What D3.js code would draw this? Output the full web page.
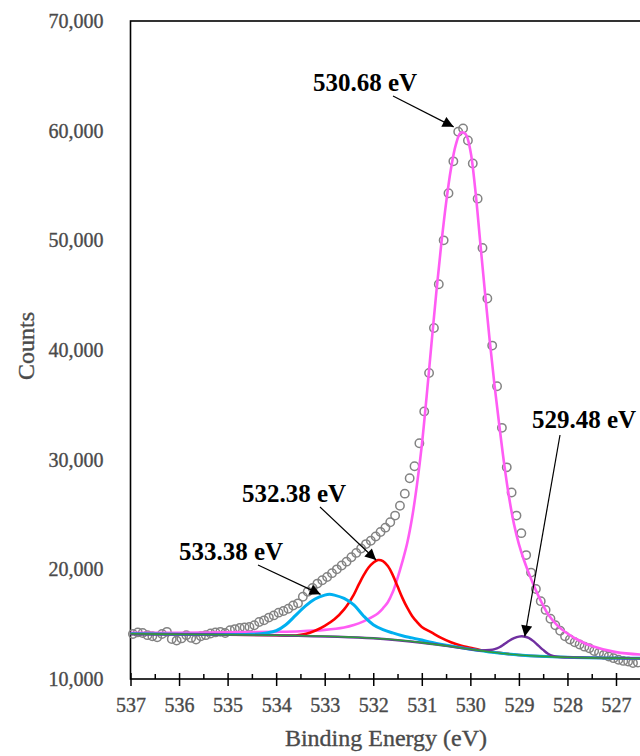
<!DOCTYPE html>
<html>
<head>
<meta charset="utf-8">
<script src="https://cdn.jsdelivr.net/npm/d3@7"></script>
<style>
  html, body { margin: 0; padding: 0; background: #fff; }
  svg { display: block; }
</style>
</head>
<body>
<div id="chart"></div>
<script>
// O 1s spectrum: measured counts (open circles), fitted components and background.

// Measured points [binding energy (eV), counts]
const measured = [
  [536.95,14100],[536.85,14250],[536.75,14200],[536.65,14000],[536.55,13900],[536.45,13800],[536.35,14100],[536.25,14300],[536.15,13650],[536.05,13500],
  [535.95,13700],[535.85,14000],[535.75,13750],[535.65,13600],[535.55,13900],[535.45,14000],[535.35,14150],[535.25,14250],[535.15,14300],[535.05,14200],
  [534.95,14450],[534.85,14550],[534.75,14650],[534.65,14700],[534.55,14750],[534.45,14900],[534.35,15200],[534.25,15350],[534.15,15600],[534.05,15800],
  [533.95,16050],[533.85,16200],[533.75,16400],[533.65,16700],[533.55,16900],[533.45,17500],[533.35,17950],[533.25,18300],[533.15,18700],[533.05,19000],
  [532.95,19300],[532.85,19650],[532.75,20000],[532.65,20350],[532.55,20700],[532.45,21100],[532.35,21500],[532.25,21900],[532.15,22300],[532.05,22600],
  [531.95,23000],[531.85,23400],[531.75,23800],[531.65,24300],[531.55,24900],[531.45,25800],[531.35,26900],[531.25,28300],[531.15,29400],[531.05,31500],
  [530.95,34400],[530.85,37900],[530.75,42000],[530.65,46000],[530.55,50000],[530.45,54300],[530.35,57200],[530.25,59900],[530.15,60200],[530.05,59100],
  [529.95,57000],[529.85,53800],[529.75,49300],[529.65,44700],[529.55,40400],[529.45,36700],[529.35,32900],[529.25,29300],[529.15,27000],[529.05,24900],
  [528.95,23300],[528.85,21300],[528.75,19700],[528.65,18200],[528.55,17100],[528.45,16300],[528.35,15500],[528.25,14900],[528.15,14400],[528.05,13900],
  [527.95,13600],[527.85,13350],[527.75,13150],[527.65,12950],[527.55,12800],[527.45,12550],[527.35,12400],[527.25,12200],[527.15,12050],[527.05,11900],
  [526.95,11750],[526.85,11650],[526.75,11600],[526.65,11450],[526.55,11500]
];

// Fitted components (each drawn on top of the background)
const peakMain = [
  [537.0,14220],[536.0,14220],[535.0,14260],[534.0,14300],[533.5,14350],[533.0,14480],[532.6,14700],[532.4,14920],[532.2,15250],[532.0,15700],
  [531.9,16000],[531.8,16450],[531.7,17000],[531.6,17900],[531.5,19200],[531.4,20700],[531.3,22400],[531.2,24700],[531.1,27700],[531.0,31300],
  [530.9,35800],[530.8,40600],[530.7,45300],[530.6,49600],[530.5,53400],[530.4,56500],[530.3,58700],[530.2,59800],[530.1,59700],[530.0,58200],
  [529.9,54700],[529.8,50000],[529.7,45300],[529.6,40800],[529.5,36700],[529.4,33000],[529.3,29500],[529.2,26500],[529.1,24100],[529.0,22300],
  [528.9,20900],[528.8,19700],[528.7,18600],[528.6,17600],[528.5,16700],[528.4,15900],[528.2,14850],[528.0,14150],[527.8,13600],[527.5,13000],
  [527.0,12450],[526.4,12200]
];

const peakHydroxyl = [
  [537.0,14110],[535.0,14040],[534.0,13990],[533.6,13970],[533.4,14100],[533.2,14400],[533.0,14850],[532.8,15450],[532.6,16350],[532.4,17700],
  [532.3,18600],[532.2,19450],[532.1,20150],[532.0,20600],[531.9,20850],[531.8,20750],[531.7,20300],[531.6,19500],[531.5,18450],[531.4,17400],
  [531.3,16500],[531.2,15750],[531.1,15200],[531.0,14750],[530.8,14250],[530.6,13750],[530.4,13350],[530.2,13050],[530.0,12850],[529.8,12650],
  [529.6,12520],[529.4,12380],[529.0,12190],[528.0,11980],[526.4,11880]
];

const peakWater = [
  [537.0,14120],[535.0,14060],[534.5,14080],[534.2,14200],[534.0,14400],[533.8,14950],[533.6,15800],[533.4,16650],[533.2,17300],[533.0,17650],
  [532.9,17720],[532.8,17650],[532.6,17350],[532.4,16750],[532.2,15750],[532.0,14950],[531.8,14500],[531.6,14200],[531.4,13950],[531.2,13750],
  [531.0,13550],[530.7,13250],[530.4,13000],[530.0,12720],[529.5,12420],[529.0,12190],[528.0,11980],[526.4,11880]
];

const peakLattice = [
  [537.0,14110],[534.0,13980],[532.0,13710],[531.0,13310],[530.5,13020],[530.0,12710],[529.8,12600],[529.6,12640],[529.5,12720],[529.4,12900],
  [529.3,13180],[529.2,13480],[529.1,13720],[529.0,13870],[528.9,13880],[528.8,13750],[528.7,13450],[528.6,13050],[528.5,12650],[528.4,12300],
  [528.3,12100],[528.2,12020],[528.0,11980],[527.0,11900],[526.4,11880]
];

const background = [
  [537.0,14120],[536.0,14080],[535.0,14040],[534.0,13990],[533.0,13900],[532.5,13820],[532.0,13720],[531.5,13560],[531.0,13320],[530.5,13030],
  [530.0,12720],[529.5,12420],[529.0,12190],[528.5,12060],[528.0,11980],[527.5,11930],[527.0,11900],[526.4,11880]
];

// Peak labels
const peakLabels = ["530.68 eV", "532.38 eV", "533.38 eV", "529.48 eV"];

// Axis ticks
const energyTicks = [537, 536, 535, 534, 533, 532, 531, 530, 529, 528, 527];
const energyMinorTicks = [536.5, 535.5, 534.5, 533.5, 532.5, 531.5, 530.5, 529.5, 528.5, 527.5, 526.5];
const countTicks = [10000, 20000, 30000, 40000, 50000, 60000, 70000];

const W = 640, H = 756;
const plot = { left: 130.5, top: 21, bottom: 679 };

const svg = d3.select("#chart").append("svg")
  .attr("width", W).attr("height", H)
  .attr("viewBox", `0 0 ${W} ${H}`);

svg.append("rect").attr("width", W).attr("height", H).attr("fill", "#fff");

const x = d3.scaleLinear().domain([537, 526]).range([plot.left, plot.left + 11 * 48.55]);
const y = d3.scaleLinear().domain([10000, 70000]).range([plot.bottom, plot.top]);

const serif = "'Liberation Serif', 'Times New Roman', serif";
const labelGray = "#4a4a4a";

// Plot frame
svg.append("rect")
  .attr("x", x(537)).attr("y", y(70000))
  .attr("width", x(526) - x(537)).attr("height", y(10000) - y(70000))
  .attr("fill", "none").attr("stroke", "#000").attr("stroke-width", 1.6);

// Measured data (open circles)
svg.append("g").selectAll("circle")
  .data(measured)
  .join("circle")
  .attr("cx", d => x(d[0]))
  .attr("cy", d => y(d[1]))
  .attr("r", 4.2)
  .attr("fill", "none")
  .attr("stroke", "#838383")
  .attr("stroke-width", 1.5);

// Fitted lines
const line = d3.line()
  .x(d => x(d[0]))
  .y(d => y(d[1]))
  .curve(d3.curveCatmullRom.alpha(0.5));

const fits = [
  { data: peakMain, color: "#ff5cf4", width: 2.6 },
  { data: peakHydroxyl, color: "#ff0000", width: 2.6 },
  { data: peakWater, color: "#00b0f0", width: 3 },
  { data: peakLattice, color: "#7030a0", width: 2.4 },
  { data: background, color: "#2e9e3c", width: 1.6 }
];

svg.append("g").selectAll("path")
  .data(fits)
  .join("path")
  .attr("d", d => line(d.data))
  .attr("fill", "none")
  .attr("stroke", d => d.color)
  .attr("stroke-width", d => d.width)
  .attr("stroke-linejoin", "round");

// X axis: major ticks cross the axis line, minor ticks sit inside
const xAxis = svg.append("g")
  .attr("transform", `translate(0,${plot.bottom})`)
  .call(d3.axisBottom(x).tickValues(energyTicks).tickSize(7).tickPadding(12).tickFormat(d3.format("d")));
xAxis.select(".domain").remove();
xAxis.selectAll(".tick line").attr("y1", -6).attr("y2", 7).attr("stroke", "#000").attr("stroke-width", 1.5);
xAxis.selectAll(".tick text")
  .attr("font-family", serif).attr("font-size", 20)
  .attr("fill", labelGray).attr("stroke", labelGray).attr("stroke-width", 0.35)
  .attr("dy", "0.71em");

const xMinor = svg.append("g")
  .attr("transform", `translate(0,${plot.bottom})`)
  .call(d3.axisBottom(x).tickValues(energyMinorTicks).tickSize(0).tickFormat(""));
xMinor.select(".domain").remove();
xMinor.selectAll(".tick line").attr("y1", -5).attr("y2", 0).attr("stroke", "#000").attr("stroke-width", 1.5);

// Y axis labels
const yAxis = svg.append("g")
  .attr("transform", `translate(${plot.left},0)`)
  .call(d3.axisLeft(y).tickValues(countTicks).tickSize(0).tickPadding(27).tickFormat(d3.format(",")));
yAxis.select(".domain").remove();
yAxis.selectAll(".tick text")
  .attr("font-family", serif).attr("font-size", 20)
  .attr("fill", labelGray).attr("stroke", labelGray).attr("stroke-width", 0.35);

// Axis titles
svg.append("text")
  .attr("x", 386).attr("y", 746)
  .attr("text-anchor", "middle")
  .attr("font-family", serif).attr("font-size", 24)
  .attr("fill", labelGray).attr("stroke", labelGray).attr("stroke-width", 0.35)
  .text("Binding Energy (eV)");

svg.append("text")
  .attr("transform", `translate(34,${(plot.top + plot.bottom) / 2 - 4}) rotate(-90)`)
  .attr("text-anchor", "middle")
  .attr("font-family", serif).attr("font-size", 24)
  .attr("fill", labelGray).attr("stroke", labelGray).attr("stroke-width", 0.35)
  .text("Counts");

// Peak annotations with arrows pointing at each component maximum
svg.append("defs").append("marker")
  .attr("id", "arrowhead")
  .attr("viewBox", "0 0 10 10")
  .attr("refX", 10).attr("refY", 5)
  .attr("markerUnits", "userSpaceOnUse")
  .attr("markerWidth", 13).attr("markerHeight", 11)
  .attr("orient", "auto")
  .append("path").attr("d", "M0,0 L10,5 L0,10 Z").attr("fill", "#000");

// Background level at a given energy (linear between listed points)
const bgAsc = background.slice().sort((a, b) => a[0] - b[0]);
const bgAt = d3.scaleLinear().domain(bgAsc.map(d => d[0])).range(bgAsc.map(d => d[1]));

// Component maximum measured above the background
function peakOf(series) {
  return series.reduce((a, b) => (b[1] - bgAt(b[0]) > a[1] - bgAt(a[0]) ? b : a));
}

const annotations = [
  { text: peakLabels[0], series: peakMain,     tx: 313, ty: 91,  sx: 393, sy: 96,  dx: -7, dy: -6 },
  { text: peakLabels[1], series: peakHydroxyl, tx: 242, ty: 502, sx: 320, sy: 507, dx: -2, dy: 0 },
  { text: peakLabels[2], series: peakWater,    tx: 179, ty: 560, sx: 258, sy: 565, dx: -9, dy: 0 },
  { text: peakLabels[3], series: peakLattice,  tx: 532, ty: 428, sx: 560, sy: 435, dx: 1, dy: 0 }
];

const ann = svg.append("g");
annotations.forEach(a => {
  const p = peakOf(a.series);
  ann.append("line")
    .attr("x1", a.sx).attr("y1", a.sy)
    .attr("x2", x(p[0]) + a.dx).attr("y2", y(p[1]) + a.dy)
    .attr("stroke", "#000").attr("stroke-width", 1.2)
    .attr("marker-end", "url(#arrowhead)");
  ann.append("text")
    .attr("x", a.tx).attr("y", a.ty)
    .attr("font-family", serif).attr("font-size", 25).attr("font-weight", "bold")
    .attr("fill", "#000")
    .text(a.text);
});
</script>
</body>
</html>
